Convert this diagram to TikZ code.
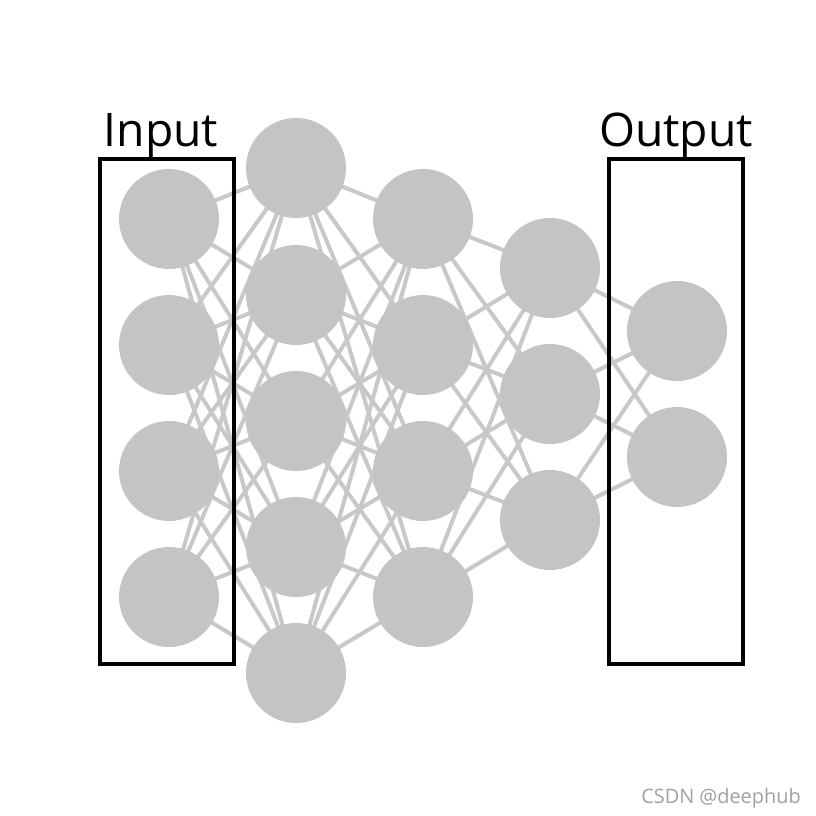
\documentclass[tikz,border=0pt]{standalone}
\usepackage{fontspec}
\setmainfont{Open Sans}
\usetikzlibrary{backgrounds}
\definecolor{nodegray}{RGB}{196,196,196}
\definecolor{edgegray}{RGB}{200,200,200}
\definecolor{markgray}{RGB}{160,160,160}
\tikzset{
  neuron/.style={
    circle,
    fill=nodegray,
    draw=none,
    minimum size=3cm,
    inner sep=0pt
  },
  synapse/.style={
    edgegray,
    line width=3.4pt
  },
  layerbox/.style={
    black,
    line width=2.6pt
  }
}

\begin{document}
\begin{tikzpicture}[x=0.03cm,y=-0.03cm]
    \useasboundingbox (0,0) rectangle (816,816);

    % ニューロン
    \foreach \y [count=\i] in {219,345,471,597}
        \node[neuron] (a\i) at (169,\y) {};
    \foreach \y [count=\i] in {168,295,421,547,673}
        \node[neuron] (b\i) at (296,\y) {};
    \foreach \y [count=\i] in {219,345,471,597}
        \node[neuron] (c\i) at (423,\y) {};
    \foreach \y [count=\i] in {268,394,520}
        \node[neuron] (d\i) at (550,\y) {};
    \foreach \y [count=\i] in {331,457}
        \node[neuron] (e\i) at (677,\y) {};

    % 結合
    \begin{scope}[on background layer]
    \foreach \i in {1,...,4}
        \foreach \j in {1,...,5}
            \draw[synapse] (a\i.center) -- (b\j.center);
    \foreach \i in {1,...,5}
        \foreach \j in {1,...,4}
            \draw[synapse] (b\i.center) -- (c\j.center);
    \foreach \i in {1,...,4}
        \foreach \j in {1,...,3}
            \draw[synapse] (c\i.center) -- (d\j.center);
    \foreach \i in {1,...,3}
        \foreach \j in {1,2}
            \draw[synapse] (d\i.center) -- (e\j.center);
    \end{scope}

    % 入出力の枠
    \draw[layerbox] (100,159) rectangle (234,664);
    \draw[layerbox] (609,159) rectangle (743,664);
    \node[anchor=base,inner sep=0pt,font=\fontsize{39.5}{46}\selectfont] (inlabel) at (161,147) {Input};
    \node[anchor=base,inner sep=0pt,font=\fontsize{39.5}{46}\selectfont] (outlabel) at (676,147) {Output};

    % 透かし
    \node[anchor=base east,inner sep=0pt,text=markgray,font=\fontsize{17}{20}\selectfont] (mark) at (801,803) {CSDN @deephub};
\end{tikzpicture}
\end{document}
